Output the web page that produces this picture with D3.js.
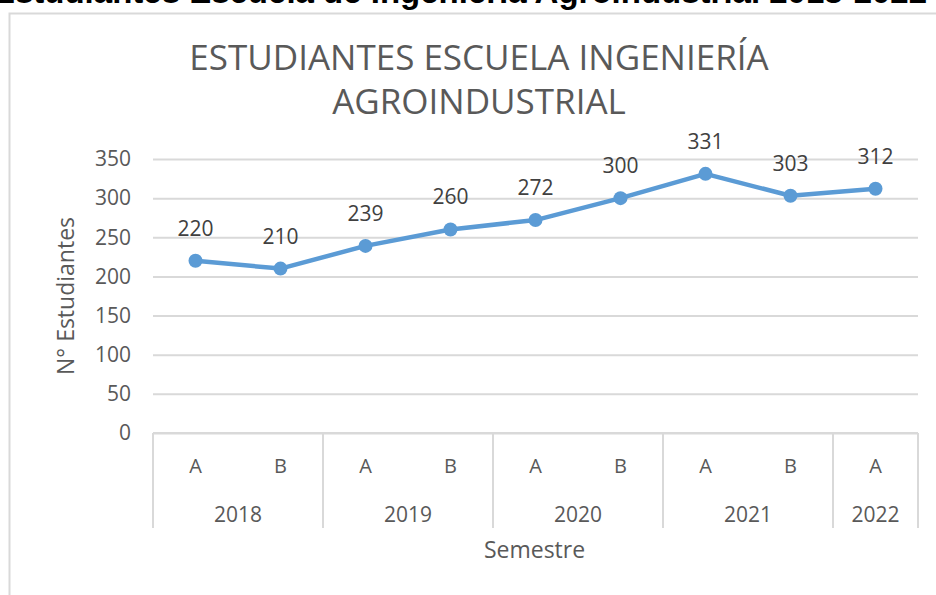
<!DOCTYPE html>
<html>
<head>
<meta charset="utf-8">
<script src="https://cdn.jsdelivr.net/npm/d3@7"></script>
<style>
  body { margin: 0; background: #fff; }
  text { font-family: "Open Sans", "Noto Sans", sans-serif; }
</style>
</head>
<body>
<svg id="chart" width="936" height="595"></svg>
<script>
// data
const semesters = ['A', 'B', 'A', 'B', 'A', 'B', 'A', 'B', 'A']
const years = ['2018', '2018', '2019', '2019', '2020', '2020', '2021', '2021', '2022']
const students = [220, 210, 239, 260, 272, 300, 331, 303, 312]
const yTicks = [0, 50, 100, 150, 200, 250, 300, 350]

const grey = '#595959'
const lineGrey = '#d9d9d9'
const blue = '#5b9bd5'

const margin = { top: 159, right: 18, bottom: 162, left: 153 }
const width = 936 - margin.left - margin.right
const height = 595 - margin.top - margin.bottom

const svg = d3.select('#chart')

// outer frame (cropped screenshot of a spreadsheet chart)
svg.append('rect')
  .attr('x', 9.5).attr('y', 13.5)
  .attr('width', 960).attr('height', 620)
  .attr('fill', 'none')
  .attr('stroke', lineGrey)
  .attr('stroke-width', 2)

// cut-off heading at the very top
svg.append('text')
  .attr('x', 460).attr('y', 3)
  .attr('text-anchor', 'middle')
  .style('font-family', '"Liberation Sans", Arial, sans-serif')
  .style('font-weight', 'bold')
  .style('font-size', '33px')
  .attr('fill', '#000')
  .text('Estudiantes Escuela de Ingeniería Agroindustrial 2018-2022')

// title
const title = svg.append('text')
  .attr('text-anchor', 'middle')
  .attr('fill', grey)
  .style('font-size', '35px')
title.append('tspan').attr('x', 479).attr('y', 70).text('ESTUDIANTES ESCUELA INGENIERÍA')
title.append('tspan').attr('x', 479).attr('y', 114).text('AGROINDUSTRIAL')

const g = svg.append('g')
  .attr('transform', `translate(${margin.left}, ${margin.top})`)

const yScale = d3.scaleLinear()
  .domain([0, 350])
  .range([height, 0])

const xScale = d3.scaleBand()
  .domain(d3.range(students.length))
  .range([0, width])

// gridlines + y labels
const yAxis = d3.axisLeft(yScale)
  .tickValues(yTicks)
  .tickSize(-width)
  .tickPadding(22)
g.append('g')
  .call(yAxis)
  .call(ax => ax.select('.domain').remove())
  .call(ax => ax.selectAll('line').attr('stroke', lineGrey).attr('stroke-width', 2))
  .call(ax => ax.selectAll('text')
    .attr('fill', grey)
    .style('font-size', '21px')
    .style('font-family', '"Open Sans", sans-serif'))

// multi-level category axis
const axisG = g.append('g').attr('transform', `translate(0, ${height})`)
axisG.append('line')
  .attr('x1', 0).attr('x2', width)
  .attr('stroke', lineGrey).attr('stroke-width', 2)

axisG.selectAll('.sem')
  .data(semesters)
  .enter()
  .append('text')
    .attr('x', (d, i) => xScale(i) + xScale.bandwidth() / 2)
    .attr('y', 40)
    .attr('text-anchor', 'middle')
    .attr('fill', grey)
    .style('font-size', '20px')
    .text(d => d)

const yearGroups = d3.groups(years.map((y, i) => ({ y, i })), d => d.y)
  .map(([y, arr]) => ({ y, first: arr[0].i, last: arr[arr.length - 1].i }))

const bounds = [0].concat(yearGroups.map(d => xScale(d.last) + xScale.bandwidth()))
axisG.selectAll('.sep')
  .data(bounds)
  .enter()
  .append('line')
    .attr('x1', d => d).attr('x2', d => d)
    .attr('y1', 0).attr('y2', 95)
    .attr('stroke', lineGrey).attr('stroke-width', 2)

axisG.selectAll('.year')
  .data(yearGroups)
  .enter()
  .append('text')
    .attr('x', d => (xScale(d.first) + xScale(d.last) + xScale.bandwidth()) / 2)
    .attr('y', 89)
    .attr('text-anchor', 'middle')
    .attr('fill', grey)
    .style('font-size', '21px')
    .text(d => d.y)

// axis titles
g.append('text')
  .attr('x', width / 2 - 1)
  .attr('y', height + 125)
  .attr('text-anchor', 'middle')
  .attr('fill', grey)
  .style('font-size', '23px')
  .text('Semestre')

g.append('text')
  .attr('transform', `translate(-79, ${height / 2}) rotate(-90)`)
  .attr('text-anchor', 'middle')
  .attr('fill', grey)
  .style('font-size', '23px')
  .text('N° Estudiantes')

// line + markers
const line = d3.line()
  .x((d, i) => xScale(i) + xScale.bandwidth() / 2)
  .y(d => yScale(d))

g.append('path')
  .datum(students)
  .attr('d', line)
  .attr('fill', 'none')
  .attr('stroke', blue)
  .attr('stroke-width', 4.5)
  .attr('stroke-linejoin', 'round')

g.selectAll('circle')
  .data(students)
  .enter()
  .append('circle')
    .attr('cx', (d, i) => xScale(i) + xScale.bandwidth() / 2)
    .attr('cy', d => yScale(d))
    .attr('r', 7)
    .attr('fill', blue)

g.selectAll('.lbl')
  .data(students)
  .enter()
  .append('text')
    .attr('x', (d, i) => xScale(i) + xScale.bandwidth() / 2)
    .attr('y', d => yScale(d) - 25)
    .attr('text-anchor', 'middle')
    .attr('fill', '#404040')
    .style('font-size', '21px')
    .text(d => d)
</script>
</body>
</html>
